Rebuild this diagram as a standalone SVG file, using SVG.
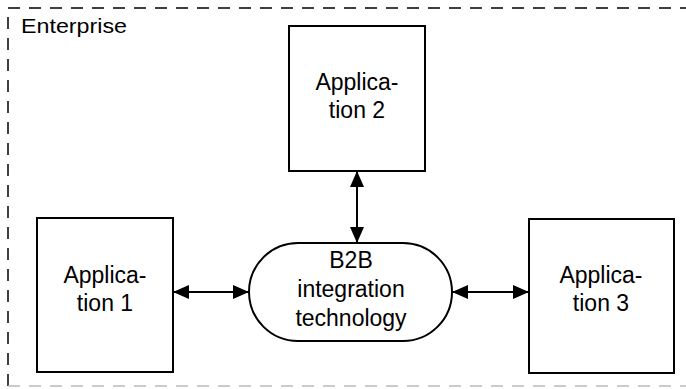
<svg xmlns="http://www.w3.org/2000/svg" width="686" height="389" viewBox="0 0 686 389">
<style>
.box{fill:#fff;stroke:#000;stroke-width:2}
.t{font-family:"Liberation Sans",Arial,sans-serif;font-size:23px;fill:#000;text-anchor:middle}
.lbl{font-family:"Liberation Sans",Arial,sans-serif;font-size:20px;fill:#000}
.dash{fill:none;stroke:#000;stroke-width:1.5;stroke-dasharray:12 9}
.conn{stroke:#000;stroke-width:2;fill:none;marker-start:url(#a);marker-end:url(#a)}
</style>
<defs>
<marker id="a" viewBox="0 0 16 14" refX="16" refY="7" markerWidth="16" markerHeight="14" markerUnits="userSpaceOnUse" orient="auto-start-reverse">
<path d="M0,0 L16,7 L0,14 Z" fill="#000"/>
</marker>
</defs>
<g id="enterprise">
<path class="dash" d="M8,386 V8 H686"/>
<path d="M8,386 H686" fill="none" stroke="#bbb" stroke-width="1.5" stroke-dasharray="12 9"/>
<text class="lbl" x="21" y="33" textLength="106" lengthAdjust="spacingAndGlyphs">Enterprise</text>
</g>
<g id="connectors">
<line class="conn" x1="357" y1="171" x2="357" y2="243"/>
<line class="conn" x1="173" y1="292" x2="249" y2="292"/>
<line class="conn" x1="452" y1="292" x2="529" y2="292"/>
</g>
<g id="app2">
<rect class="box" x="289" y="26" width="136" height="145"/>
<text class="t" x="357" y="90">Applica-</text>
<text class="t" x="357" y="118">tion 2</text>
</g>
<g id="app1">
<rect class="box" x="37" y="218" width="136" height="154"/>
<text class="t" x="105" y="283">Applica-</text>
<text class="t" x="105" y="311">tion 1</text>
</g>
<g id="app3">
<rect class="box" x="529" y="219" width="145" height="154"/>
<text class="t" x="601" y="283">Applica-</text>
<text class="t" x="601" y="311">tion 3</text>
</g>
<g id="b2b">
<rect class="box" x="249" y="243" width="203" height="98" rx="49" ry="49"/>
<text class="t" x="351" y="268">B2B</text>
<text class="t" x="351" y="297">integration</text>
<text class="t" x="351" y="326">technology</text>
</g>
</svg>
